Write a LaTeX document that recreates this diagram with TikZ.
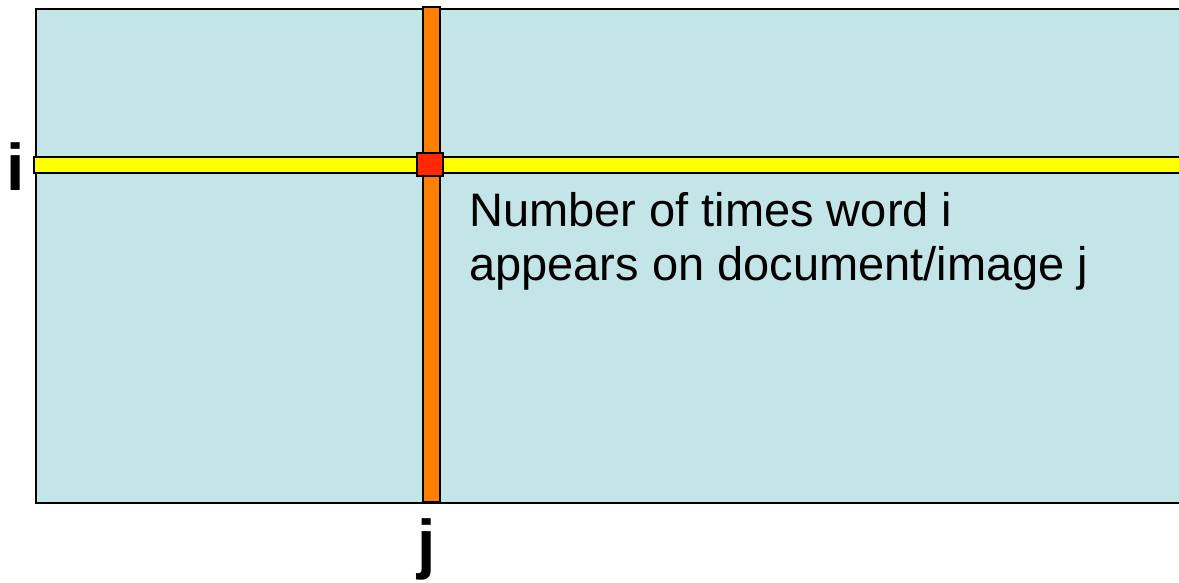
\documentclass[tikz,border=0pt]{standalone}
\usepackage{fontspec}
\setmainfont{Liberation Sans}
\definecolor{bgblue}{RGB}{196,229,232}
\definecolor{rowyellow}{RGB}{255,255,0}
\definecolor{colorange}{RGB}{255,128,0}
\definecolor{cellred}{RGB}{255,40,0}
\tikzset{
  outline/.style={draw=black,line width=2pt},
  lbl/.style={font=\fontsize{66}{66}\selectfont\bfseries,inner sep=0pt,anchor=base},
  desc/.style={font=\fontsize{47}{53.5}\selectfont,inner sep=0pt,anchor=north west,align=left,text=black}
}
\begin{document}
\begin{tikzpicture}[x=1pt,y=-1pt]
\useasboundingbox (0,0) rectangle (1179,582);
\begin{scope}
\clip (0,0) rectangle (1179,582);
\node[outline,fill=bgblue,minimum width=1160pt,minimum height=494pt,anchor=north west,inner sep=0pt] (matrix) at (35,8) {};
\node[outline,fill=rowyellow,minimum width=1160pt,minimum height=16pt,anchor=north west,inner sep=0pt] (row) at (33,156) {};
\node[outline,fill=colorange,minimum width=17pt,minimum height=495pt,anchor=north west,inner sep=0pt] (col) at (422,6) {};
\node[outline,fill=cellred,minimum width=26pt,minimum height=23pt,anchor=north west,inner sep=0pt] (cell) at (416,152) {};
\end{scope}
\node[lbl] (ilbl) at (15.5,190) {i};
\node[lbl] (jlbl) at (427,566) {j};
\node[desc] (text) at (469,192.5) {Number of times word i\\appears on document/image j};
\end{tikzpicture}
\end{document}
